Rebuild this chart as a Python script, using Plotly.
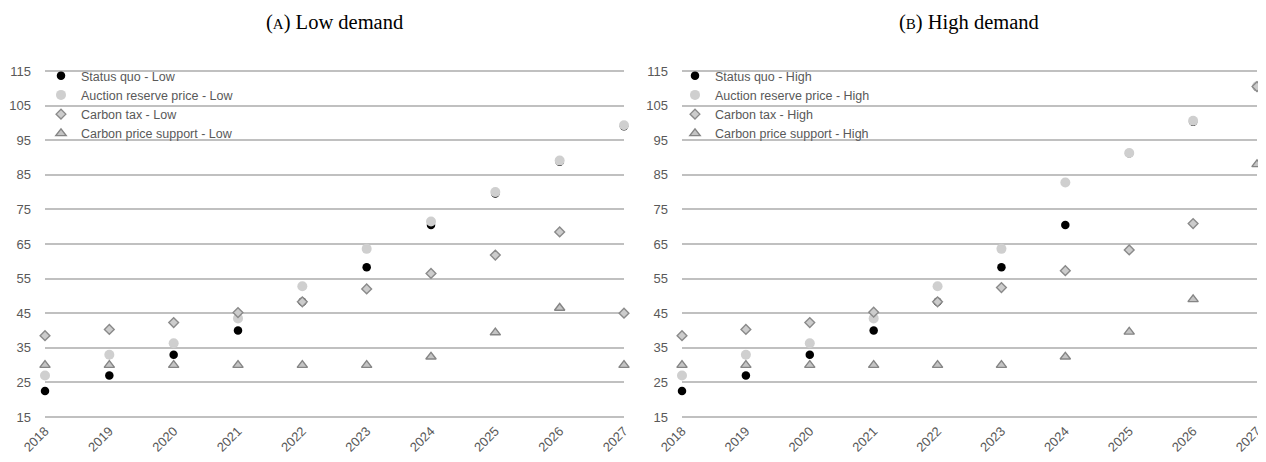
import plotly.graph_objects as go

years = [2018, 2019, 2020, 2021, 2022, 2023, 2024, 2025, 2026, 2027]

sq_low = [22.5, 27, 33, 40, 48.3, 58.3, 70.5, 79.6, 88.8, 99.0]
arp_low = [27, 33, 36.3, 43.5, 52.8, 63.6, 71.5, 80.0, 89.1, 99.3]
ct_low = [38.5, 40.3, 42.3, 45.2, 48.3, 52.0, 56.5, 61.8, 68.5, 45.0]
cps_low = [30, 30, 30, 30, 30, 30, 32.4, 39.4, 46.5, 30]

sq_high = [22.5, 27, 33, 40, 48.3, 58.3, 70.5, 91.2, 100.3, 110.4]
arp_high = [27, 33, 36.3, 43.5, 52.8, 63.6, 82.8, 91.3, 100.6, 110.6]
ct_high = [38.5, 40.3, 42.3, 45.3, 48.3, 52.4, 57.3, 63.3, 70.9, 110.5]
cps_high = [30, 30, 30, 30, 30, 30, 32.4, 39.6, 49.0, 88.0]

y_ticks = [15, 25, 35, 45, 55, 65, 75, 85, 95, 105, 115]

series_names = ["Status quo", "Auction reserve price", "Carbon tax", "Carbon price support"]

styles = [
    dict(symbol="circle", size=8.5, color="#000000", line=dict(color="#000000", width=0)),
    dict(symbol="circle", size=10, color="#cfcfcf", line=dict(color="#cfcfcf", width=0)),
    dict(symbol="diamond", size=7.5, color="#cccccc", line=dict(color="#8a8a8a", width=1.4)),
    dict(symbol="triangle-up", size=9, color="#c4c4c4", line=dict(color="#858585", width=1.4)),
]

fig = go.Figure()

panels = [
    ("x", "y", "legend", "Low", [sq_low, arp_low, ct_low, cps_low]),
    ("x2", "y2", "legend2", "High", [sq_high, arp_high, ct_high, cps_high]),
]

for xa, ya, lg, tag, data in panels:
    for i, name in enumerate(series_names):
        fig.add_trace(go.Scatter(
            x=years, y=data[i], mode="markers",
            name=f"{name} - {tag}",
            marker=styles[i],
            xaxis=xa, yaxis=ya, legend=lg,
            cliponaxis=False,
        ))

W, H = 1258, 454
left_dom = [37 / W, 616 / W]
right_dom = [674 / W, 1249 / W]
# range padded slightly so the 15 and 115 grid lines are drawn inside the plot area
pad = 0.3
px_per_unit = 346 / 100
y_dom = [1 - (409 + pad * px_per_unit) / H, 1 - (63 - pad * px_per_unit) / H]

axis_font = dict(family="Liberation Sans, Arial, sans-serif", size=13, color="#595959")

xcommon = dict(range=[2018, 2027], tickvals=years, ticktext=[str(y) for y in years],
               tickangle=-45, showgrid=False, zeroline=False, showline=False,
               tickfont=axis_font, ticks="", ticklabelstandoff=2, automargin=False)
ycommon = dict(range=[15 - pad, 115 + pad], tickvals=y_ticks, showgrid=True, gridcolor="#c0c0c0",
               gridwidth=1.6, zeroline=False, showline=False, tickfont=axis_font,
               ticks="", ticklabelstandoff=13, domain=y_dom, automargin=False)

legend_common = dict(
    font=dict(family="Liberation Sans, Arial, sans-serif", size=12.5, color="#595959"),
    bgcolor="rgba(0,0,0,0)", borderwidth=0, itemwidth=30,
    xanchor="left", yanchor="top", tracegroupgap=0,
)

fig.update_layout(
    width=W, height=H,
    margin=dict(l=0, r=0, t=0, b=0, autoexpand=False),
    paper_bgcolor="white", plot_bgcolor="white",
    xaxis=dict(domain=left_dom, anchor="y", **xcommon),
    yaxis=dict(anchor="x", **ycommon),
    xaxis2=dict(domain=right_dom, anchor="y2", **xcommon),
    yaxis2=dict(anchor="x2", **ycommon),
    legend=dict(x=33 / W, y=1 - 53 / H, **legend_common),
    legend2=dict(x=667 / W, y=1 - 53 / H, **legend_common),
    annotations=[
        dict(text="(<span style='font-size:15px'>A</span>) Low demand", x=326 / W, y=1 - 14 / H,
             xref="paper", yref="paper", showarrow=False, xanchor="center", yanchor="middle",
             font=dict(family="Liberation Serif, Times New Roman, serif", size=20.5, color="#000000")),
        dict(text="(<span style='font-size:15px'>B</span>) High demand", x=961 / W, y=1 - 14 / H,
             xref="paper", yref="paper", showarrow=False, xanchor="center", yanchor="middle",
             font=dict(family="Liberation Serif, Times New Roman, serif", size=20.5, color="#000000")),
    ],
    showlegend=True,
)

fig.write_html("out.html")
